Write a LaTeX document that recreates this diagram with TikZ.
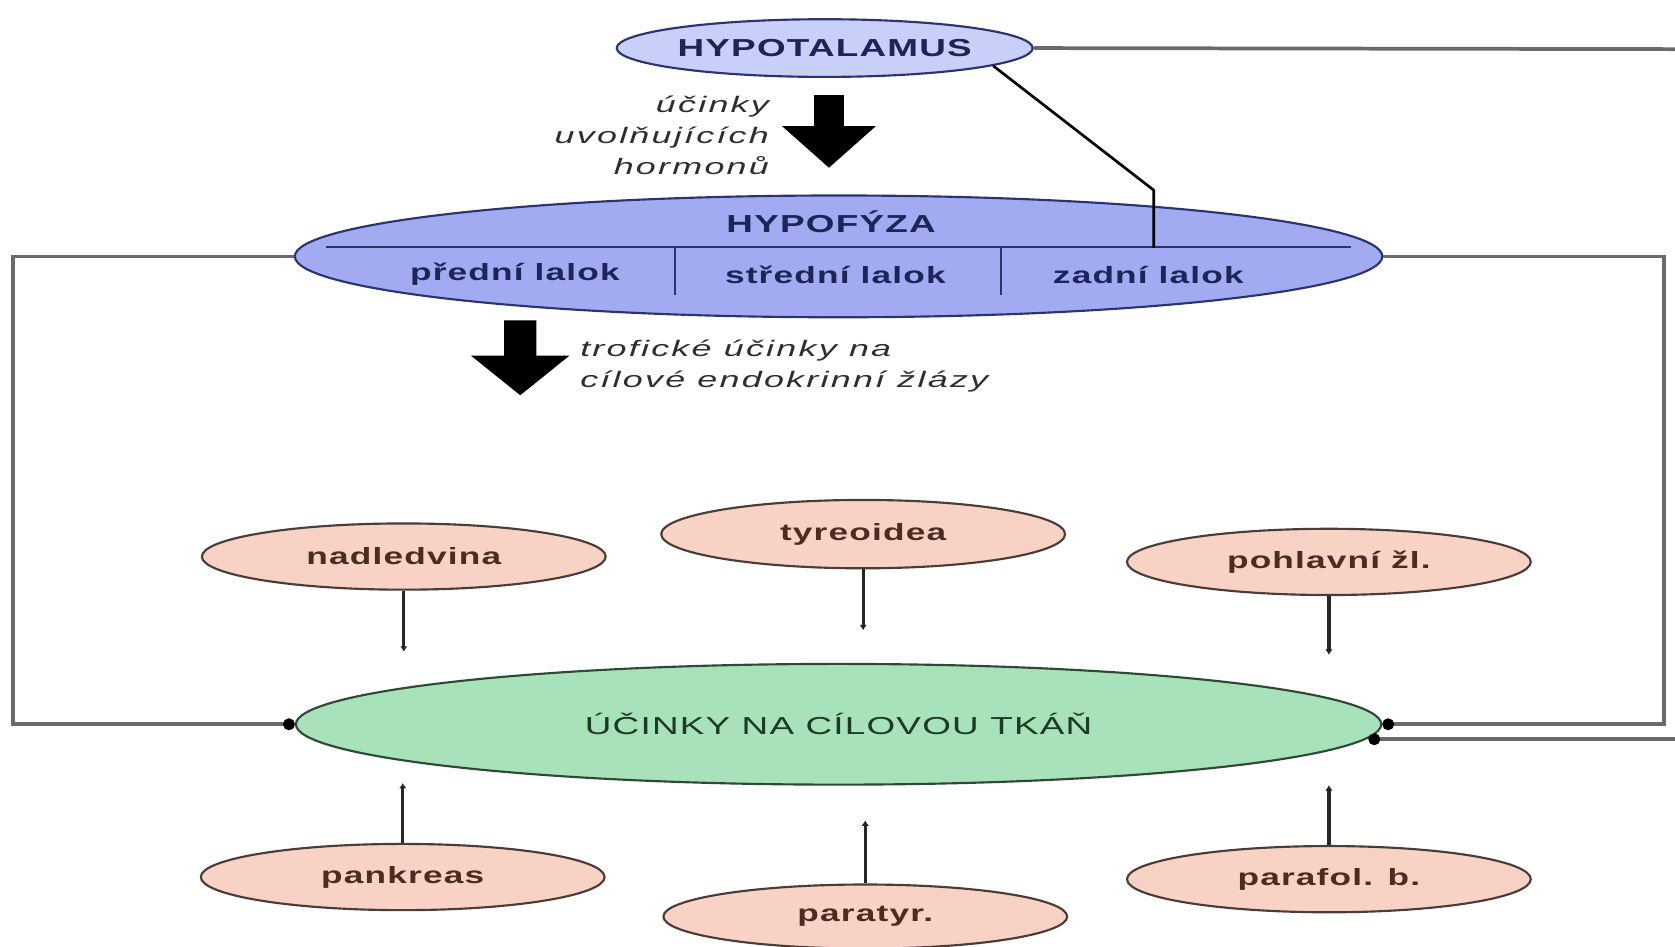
\documentclass[tikz,border=0pt]{standalone}
\usepackage{fontspec}
\setmainfont{Liberation Sans}
\newfontfamily\labfont[FakeStretch=1.5,LetterSpace=5]{Liberation Sans}
\newfontfamily\itfont[FakeStretch=1.6,LetterSpace=10]{Liberation Sans}
\usetikzlibrary{shapes.geometric,arrows.meta}
\definecolor{hyptfill}{HTML}{C8D0FA}
\definecolor{hypffill}{HTML}{A2AAF2}
\definecolor{navytext}{HTML}{1C2458}
\definecolor{navyline}{HTML}{2C3470}
\definecolor{pinkfill}{HTML}{F8D2C4}
\definecolor{pinkline}{HTML}{4A3C38}
\definecolor{browntext}{HTML}{4A2C22}
\definecolor{greenfill}{HTML}{A8E2BA}
\definecolor{greenline}{HTML}{2E4A34}
\definecolor{greentext}{HTML}{1E3A24}
\definecolor{linegray}{HTML}{6A6A6A}
\definecolor{itgray}{HTML}{2E2E2E}
\tikzset{
  oval/.style={ellipse, inner sep=0pt, line width=2pt},
  glandbox/.style={oval, draw=pinkline, fill=pinkfill, minimum width=378pt, minimum height=62pt,
     text=browntext, font=\labfont\bfseries\fontsize{22}{26}\selectfont},
  bluetext/.style={text=navytext, inner sep=0pt, font=\labfont\bfseries\fontsize{22}{26}\selectfont},
  feedback/.style={draw=linegray, line width=3.5pt},
  dotend/.style={-{Circle[length=11pt,width=11pt,color=black]}},
  glandline/.style={draw=black!85, line width=3pt, -{Latex[length=5pt,width=7pt]}},
  bigarrow/.style={fill=black},
  ittext/.style={text=itgray, inner sep=0pt, font=\itfont\itshape\fontsize{21}{29}\selectfont}
}
\begin{document}
\begin{tikzpicture}[x=1pt,y=-1pt]
\useasboundingbox[fill=white] (0,0) rectangle (1568,886);

% feedback loops (behind ellipses)
\coordinate (fbL1) at (12,240);
\coordinate (fbL2) at (12,678);
\coordinate (fbR1) at (1558,240);
\coordinate (fbR2) at (1558,678);
\coordinate (hyptR) at (1568,46);
\coordinate (lowR) at (1568,692);

% main nodes
\node[oval, draw=navyline, fill=hyptfill, minimum width=380pt, minimum height=54pt,
      text=navytext, font=\labfont\bfseries\fontsize{23}{28}\selectfont] (hypt) at (772,45) {HYPOTALAMUS};
\node[oval, draw=navyline, fill=hypffill, minimum width=1018pt, minimum height=114pt] (hypf) at (785,240) {};
\node[oval, draw=greenline, fill=greenfill, minimum width=1016pt, minimum height=113pt,
      text=greentext, font=\labfont\fontsize{23}{28}\selectfont] (tissue) at (785,678) {ÚČINKY NA CÍLOVOU TKÁŇ};

% hypofyza internal structure
\coordinate (divL) at (305,231);
\coordinate (divR) at (1265,231);
\draw[navyline, line width=2pt] (divL) -- (divR);
\coordinate (d1a) at (632,231); \coordinate (d1b) at (632,276);
\coordinate (d2a) at (937,231); \coordinate (d2b) at (937,276);
\draw[navyline, line width=2pt] (d1a) -- (d1b);
\draw[navyline, line width=2pt] (d2a) -- (d2b);
\node[bluetext, font=\labfont\bfseries\fontsize{23}{28}\selectfont] (hypfT) at (778,208) {HYPOFÝZA};
\node[bluetext] (predni) at (482,257) {přední lalok};
\node[bluetext] (stredni) at (782,257) {střední lalok};
\node[bluetext] (zadni) at (1075,257) {zadní lalok};

% hypothalamus connections
\draw[feedback] (hypt.east) -- (hyptR);
\coordinate (bend) at (1080,178);
\coordinate (zadTop) at (1080,232);
\draw[black, line width=2.5pt, line join=round] (hypt.-6) -- (bend) -- (zadTop);

% feedback lines
\draw[feedback, dotend] (hypf.west) -- (fbL1) -- (fbL2) -- (tissue.west);
\draw[feedback, dotend] (hypf.east) -- (fbR1) -- (fbR2) -- (tissue.east);
\coordinate (lowEnd) at (1281,692);
\draw[feedback, dotend] (lowR) -- (lowEnd);

% big arrows
\path[bigarrow] (762,89) -- (790,89) -- (790,118) -- (820,118) -- (776,157) -- (732,118) -- (762,118) -- cycle;
\path[bigarrow] (472,300) -- (502,300) -- (502,333) -- (533,333) -- (487,370) -- (441,333) -- (472,333) -- cycle;
\node[ittext, align=right, anchor=east] (uvol) at (720,127) {účinky\\uvolňujících\\hormonů};
\node[ittext, align=left, anchor=west] (trof) at (543,343) {trofické účinky na\\cílové endokrinní žlázy};

% glands
\node[glandbox] (nad) at (378,521) {nadledvina};
\node[glandbox, minimum height=64pt] (tyr) at (808,500) {tyreoidea};
\node[glandbox] (poh) at (1244,526) {pohlavní žl.};
\node[glandbox] (pan) at (377,821) {pankreas};
\node[glandbox, minimum height=60pt] (par) at (810,858) {paratyr.};
\node[glandbox] (paf) at (1244,823) {parafol. b.};

\coordinate (nadE) at (378,610);
\coordinate (tyrE) at (808,590);
\coordinate (pohE) at (1244,613);
\coordinate (panE) at (377,733);
\coordinate (parE) at (810,768);
\coordinate (pafE) at (1244,735);
\draw[glandline] (nad.south) -- (nadE);
\draw[glandline] (tyr.south) -- (tyrE);
\draw[glandline] (poh.south) -- (pohE);
\draw[glandline] (pan.north) -- (panE);
\draw[glandline] (par.north) -- (parE);
\draw[glandline] (paf.north) -- (pafE);
\end{tikzpicture}
\end{document}
